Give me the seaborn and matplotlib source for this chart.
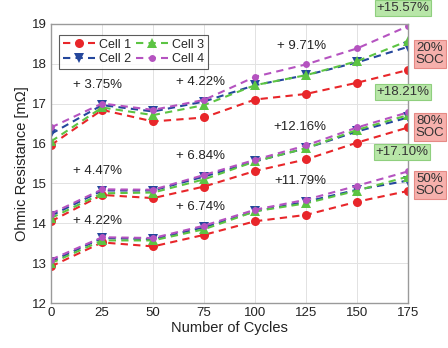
import numpy as np
import pandas as pd
import matplotlib
matplotlib.use("Agg")
import matplotlib.pyplot as plt
import seaborn as sns

cycles = [0, 25, 50, 75, 100, 125, 150, 175]
cells = ["Cell 1", "Cell 2", "Cell 3", "Cell 4"]

# 20% SOC
soc20_cell1 = [15.96, 16.84, 16.55, 16.65, 17.10, 17.24, 17.52, 17.84]
soc20_cell2 = [16.24, 16.96, 16.80, 17.05, 17.46, 17.71, 18.03, 18.42]
soc20_cell3 = [16.05, 16.90, 16.71, 16.96, 17.46, 17.71, 18.06, 18.57]
soc20_cell4 = [16.40, 17.00, 16.84, 17.09, 17.67, 17.98, 18.38, 18.94]
# 80% SOC
soc80_cell1 = [14.05, 14.71, 14.63, 14.92, 15.31, 15.60, 16.02, 16.40]
soc80_cell2 = [14.19, 14.82, 14.82, 15.17, 15.55, 15.88, 16.30, 16.65]
soc80_cell3 = [14.13, 14.75, 14.77, 15.10, 15.55, 15.88, 16.34, 16.71]
soc80_cell4 = [14.24, 14.85, 14.84, 15.21, 15.59, 15.95, 16.40, 16.78]
# 50% SOC
soc50_cell1 = [12.92, 13.52, 13.42, 13.71, 14.05, 14.21, 14.54, 14.81]
soc50_cell2 = [13.04, 13.63, 13.60, 13.90, 14.30, 14.54, 14.84, 15.07]
soc50_cell3 = [13.00, 13.57, 13.57, 13.85, 14.30, 14.50, 14.82, 15.17]
soc50_cell4 = [13.09, 13.65, 13.63, 13.94, 14.34, 14.59, 14.94, 15.30]

soc_groups = {
    "20%": [soc20_cell1, soc20_cell2, soc20_cell3, soc20_cell4],
    "80%": [soc80_cell1, soc80_cell2, soc80_cell3, soc80_cell4],
    "50%": [soc50_cell1, soc50_cell2, soc50_cell3, soc50_cell4],
}

growth_labels = ["+ 3.75%", "+ 4.22%", "+ 9.71%",
                 "+ 4.47%", "+ 6.84%", "+12.16%",
                 "+ 4.22%", "+ 6.74%", "+11.79%"]
final_labels = ["+15.57%", "+18.21%", "+17.10%"]
soc_labels = ["20%\nSOC", "80%\nSOC", "50%\nSOC"]

rows = []
for soc, series in soc_groups.items():
    for cell, vals in zip(cells, series):
        for c, v in zip(cycles, vals):
            rows.append({"cycle": c, "res": v, "cell": cell, "soc": soc})
df = pd.DataFrame(rows)

sns.set_theme(style="whitegrid")
plt.rcParams['font.family'] = ['Liberation Sans', 'DejaVu Sans']

fig = plt.figure(figsize=(4.48, 3.48), dpi=100)
ax = fig.add_axes([0.114, 0.129, 0.797, 0.803])

palette = {"Cell 1": "#e8262a", "Cell 2": "#24479c", "Cell 3": "#5cc443", "Cell 4": "#b553c0"}
markers = {"Cell 1": "o", "Cell 2": "v", "Cell 3": "^", "Cell 4": "."}
dashes = {c: (3.5, 2.5) for c in cells}

sns.lineplot(data=df, x="cycle", y="res", hue="cell", style="cell", units="soc",
             estimator=None, palette=palette, markers=markers, dashes=dashes,
             markersize=6.5, markeredgewidth=0, linewidth=1.5, ax=ax, legend=True)
for line in ax.lines:
    if line.get_marker() == ".":
        line.set_markersize(10)

handles, labels = ax.get_legend_handles_labels()
for h in handles:
    if h.get_marker() == ".":
        h.set_markersize(10)
leg = ax.legend(handles, labels, loc="upper left", ncol=2, fontsize=9,
                frameon=True, fancybox=False, edgecolor="#333333",
                handlelength=2.6, columnspacing=0.4, handletextpad=0.3,
                borderpad=0.3, labelspacing=0.2, bbox_to_anchor=(0.004, 0.982))
leg.get_frame().set_linewidth(0.8)

ax.set_xlim(0, 175)
ax.set_ylim(12, 19)
ax.set_xticks(cycles)
ax.set_yticks([12, 13, 14, 15, 16, 17, 18, 19])
ax.tick_params(labelsize=9.5, colors="#222222", length=0, pad=3)
ax.set_xlabel("Number of Cycles", fontsize=10.5, color="#222222", labelpad=1)
ax.set_ylabel("Ohmic Resistance [m\u03a9]", fontsize=10.5, color="#222222", labelpad=2)
ax.grid(True, color="#e2e2e2", linewidth=0.7)
for s in ax.spines.values():
    s.set_color("#9a9a9a")
    s.set_linewidth(1.0)

# growth annotations
gpos = [(23, 17.46), (73, 17.55), (123, 18.44),
        (23, 15.3), (73, 15.69), (122, 16.4),
        (23, 14.06), (73, 14.4), (122, 15.06)]
for (x, y), t in zip(gpos, growth_labels):
    ax.text(x, y, t, fontsize=9.5, ha="center", va="center", color="#222222")

# right-side boxes (figure pixel coords)
green_box = dict(boxstyle="square,pad=0.15", fc="#b8e6a8", ec="#8fcf7e", lw=0.8)
red_box = dict(boxstyle="square,pad=0.12", fc="#f6b0ac", ec="#e58a85", lw=0.8)
fpos_green = [(403, 8), (403, 92), (402, 152)]
fpos_red = [(430, 54), (430, 127), (430, 185)]
for (px, py), t in zip(fpos_green, final_labels):
    fig.text(px / 448, 1 - py / 348, t, fontsize=9.5, ha="center", va="center",
             color="#333333", bbox=green_box)
for (px, py), t in zip(fpos_red, soc_labels):
    fig.text(px / 448, 1 - py / 348, t, fontsize=9.5, ha="center", va="center",
             color="#333333", bbox=red_box, linespacing=1.05)

fig.savefig("out.png", dpi=100)
